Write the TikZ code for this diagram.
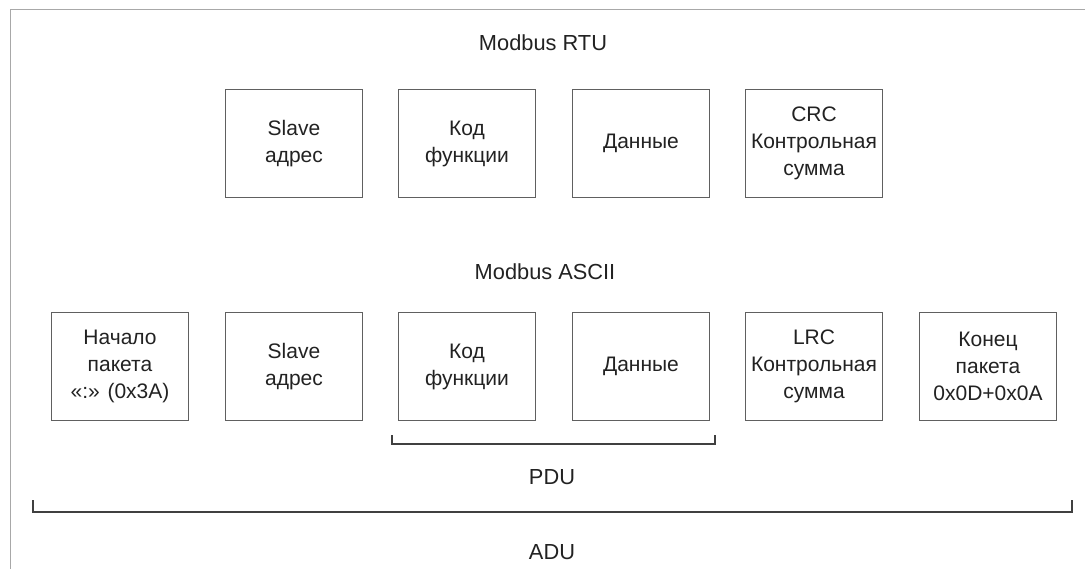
\documentclass[tikz,border=0pt]{standalone}
\usepackage{fontspec}
\setmainfont{Liberation Sans}
\begin{document}
\begin{tikzpicture}[x=1pt,y=-1pt,
  field/.style={draw=boxgray, line width=1.3pt, minimum width=137pt, minimum height=108pt,
    inner sep=0pt, align=center, text=txt, font=\fontsize{21}{27}\selectfont},
  title/.style={text=txt, font=\fontsize{21.8}{26}\selectfont, inner sep=0pt},
  brace/.style={draw=brgray, line width=1.3pt},
  frame/.style={draw=framegray, line width=1pt}]
\definecolor{boxgray}{HTML}{606060}
\definecolor{brgray}{HTML}{404040}
\definecolor{framegray}{HTML}{A8A8A8}
\definecolor{txt}{HTML}{222222}
\useasboundingbox (0,0) rectangle (1085,569);
\fill[white] (0,0) rectangle (1085,569);
% frame
\coordinate (fTR) at (1085,10);
\coordinate (fTL) at (10,10);
\coordinate (fBL) at (10,569);
\draw[frame] (fTR) -- (fTL) -- (fBL);
% titles
\node[title] (rtu) at (543,43) {Modbus RTU};
\node[title] (ascii) at (545,272) {Modbus ASCII};
% RTU row
\node[field] (r1) at (294,143.5) {Slave\\адрес};
\node[field] (r2) at (467,143.5) {Код\\функции};
\node[field] (r3) at (641,143.5) {Данные};
\node[field] (r4) at (814,143.5) {CRC\\Контрольная\\сумма};
% ASCII row
\node[field] (a0) at (120,366.5) {Начало\\пакета\\«:» (0x3A)};
\node[field] (a1) at (294,366.5) {Slave\\адрес};
\node[field] (a2) at (467,366.5) {Код\\функции};
\node[field] (a3) at (641,366.5) {Данные};
\node[field] (a4) at (814,366.5) {LRC\\Контрольная\\сумма};
\node[field] (a5) at (988,366.5) {Конец\\пакета\\0x0D+0x0A};
% PDU bracket
\coordinate (p1) at (392,435);
\coordinate (p2) at (392,444);
\coordinate (p3) at (715,444);
\coordinate (p4) at (715,435);
\draw[brace] (p1) -- (p2) -- (p3) -- (p4);
\node[title] (pdu) at (552,477) {PDU};
% ADU bracket
\coordinate (d1) at (33,500);
\coordinate (d2) at (33,512);
\coordinate (d3) at (1072,512);
\coordinate (d4) at (1072,500);
\draw[brace, line width=1.6pt] (d1) -- (d2) -- (d3) -- (d4);
\node[title] (adu) at (552,552) {ADU};
\end{tikzpicture}
\end{document}
